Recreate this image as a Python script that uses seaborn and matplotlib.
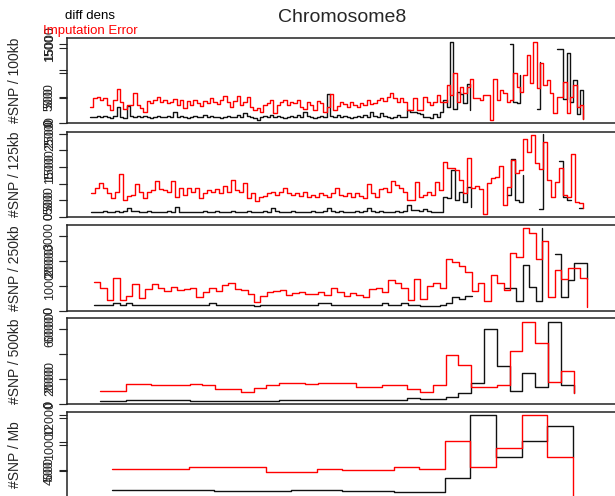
import numpy as np
import pandas as pd
import matplotlib
matplotlib.use("Agg")
import matplotlib.pyplot as plt
import seaborn as sns

sns.set_style("white")
plt.rcParams["font.family"] = ["Liberation Sans", "DejaVu Sans"]

nan = np.nan

# ==========================================
# Data (per window size)
# ==========================================
LABELS = ["#SNP / 100kb", "#SNP / 125kb", "#SNP / 250kb", "#SNP / 500kb", "#SNP / Mb"]

P1_BLACK = [
    115, 115, 140, 115, 140, 115, 93, 140, 313, 115,
    93, 340, 140, 115, 140, 115, 140, 115, 93, 115,
    140, 115, 115, 140, 115, 227, 115, 140, 115, 93,
    115, 140, 115, 115, 160, 115, 140, 115, 115, 93,
    115, 140, 115, 115, 160, 115, 193, 140, 115, 93,
    60, 115, 140, 115, 160, 115, 140, 115, 93, 115,
    140, 115, 160, 115, 227, 140, 115, 93, 115, 140,
    115, 580, 140, 115, 160, 115, 140, 115, 93, 115,
    140, 115, 160, 115, 227, 140, 115, 193, 140, 115,
    93, 115, 160,
    115, 115, 260, 230, 220, 200, 190, 115, 115, 100,
    190, 115, 230, 460, 330, 1620, 290, 630, 590, 400,
    790, 260, nan, nan, nan, nan, nan, nan, nan, nan,
    nan, nan, nan, 1590, 430, 400, 960, nan, nan, nan,
    nan, 290, 1230, nan, nan, nan, nan, 1490, 1490, 490,
    1400, 430, 860, 190, 660,
    75]
P1_RED = [
    3100, 4690, 5000, 4370, 4690, 3420, 2470, 4370, 6400, 4050,
    2600, 3420, 3420, 5640, 3420, 2790, 2150, 4240, 3740, 4370,
    5000, 4050, 4370, 3740, 4050, 4500, 3420, 4370, 2790, 4240,
    3420, 4370, 3860, 3230, 4240, 3740, 4690, 4050, 3610, 4370,
    5130, 4050, 3100, 4240, 5130, 3420, 4050, 5000, 3100, 2470,
    2790, 2150, 3420, 3860, 4370, 1960, 3420, 4050, 4370, 3420,
    4050, 3740, 4370, 3100, 2600, 4050, 3420, 2470, 4240, 3740,
    2150, 3100, 5510, 2470, 3230, 4050, 3610, 3100, 4050, 3420,
    3100, 3860, 3420, 4370, 3610, 3860, 4370, 4690, 4240, 5000,
    5760, 4690, 4050,
    4690, 4050, 2470, 2470, 4690, 2470, 2470, 5000, 4050, 3420,
    4050, 5320, 4050, 4050, 7220, 5320, 9440, 4050, 6900, 5640,
    6900, 8300, 4690, 4690, 4370, 5320, 5320, 570, 8300, 4370,
    6270, 5640, 4050, 4370, 9440, 6900, 5950, 9120, 12920, 7540,
    15450, 6590, 11460, 7220, 8170, 5640, 1840, 5000, 5000, 7850,
    1840, 5000, 7220, 3100, 3420,
    700]

P2_BLACK = [
    160, 140, 160, 180, 160, 140, 180, 160, 180, 260,
    180, 180, 160, 160, 180, 160, 140, 160, 160, 180,
    160, 310, 160, 140, 160, 160, 140, 160, 180, 160,
    160, 180, 160, 140, 160, 180, 140, 160, 160, 180,
    160, 140, 160, 180, 160, 260, 180, 160, 140, 160,
    180, 160, 160, 140, 160, 180, 160, 160, 180, 260,
    180, 160, 180, 160, 140, 160, 180, 160, 180, 260,
    180, 160, 180, 160, 140, 160, 180, 160, 180, 360,
    210, 210, 180, 240, 180, 160, 160, 160, 610, 560,
    1410, 510, 760, 460, 910, 310, nan, nan, nan, nan,
    nan, nan, nan, nan, 660, 1730, 510, 460, 1260, nan,
    nan, nan, 230, 2490, nan, nan, nan, 1690, 610, 510,
    510, nan, 260,
    260]
P2_RED = [
    7100, 8800, 10100, 8800, 7100, 5600, 7600, 12800, 5100, 6400,
    6600, 9800, 7600, 5600, 7600, 8100, 10800, 8400, 8100, 7600,
    10800, 6100, 8600, 6600, 8600, 7600, 8600, 5800, 7100, 8100,
    7600, 8400, 7100, 9400, 7600, 11100, 8100, 7600, 10100, 5600,
    7100, 4800, 6100, 6400, 7100, 7600, 6600, 7600, 8800, 7100,
    6600, 7100, 6400, 7600, 6100, 6600, 6100, 7100, 6600, 6100,
    7100, 8600, 6600, 6400, 7100, 6100, 7100, 6400, 5800, 9800,
    7100, 6100, 8400, 8800, 7600, 10800, 9600, 8600, 7600, 5100,
    5100, 10600, 6100, 6600, 7600, 6600, 10600, 8100, 16600, 14600,
    14600, 14100, 11100, 7100, 17600, 8600, 9300, 8300, 900, 10100,
    11600, 12100, 15300, 3600, 9100, 17100, 13100, 14100, 23300, 19600,
    24600, 16100, 14300, 22600, 11100, 6100, 10600, 14600, 6600, 6100,
    18900, 4600, 4300,
    2600]

P3_BLACK = [
    240, 240, 240, 310, 240, 310, 240, 240, 240, 240,
    240, 240, 240, 240, 240, 240, 240, 240, 310, 240,
    240, 240, 240, 240, 240, 210, 240, 240, 240, 240,
    240, 240, 240, 240, 240, 310, 310, 240, 240, 240,
    240, 240, 240, 240, 240, 310, 240, 240, 310, 240,
    240, 210, 200, 210, 240, 307, 573, 467, 600, 600,
    nan, nan, nan, nan, 907, 907, 413, 1840, 973, 413,
    3307, nan, 2280, 573, 1240, 1933, 1933,
    1300]
P3_RED = [
    11730, 9330, 4400, 13330, 4400, 6130, 10670, 5070, 8800, 10670,
    9070, 8000, 9730, 8400, 8800, 9070, 5730, 7730, 9330, 8000,
    10400, 11070, 8800, 8400, 6800, 3470, 6130, 7470, 8000, 8400,
    6400, 7070, 7730, 6670, 6670, 7470, 6400, 9330, 7470, 6000,
    7070, 6400, 5730, 8800, 9070, 7730, 12270, 11070, 9330, 4400,
    12670, 4800, 10000, 11330, 9070, 20670, 19730, 18130, 15730, 8000,
    11070, 4130, 14400, 11330, 8400, 23070, 21470, 33070, 31330, 20670,
    28130, 5730, 16400, 12670, 17070, 17070, 13070,
    1470]

P4_BLACK = [
    240, 240, 320, 320, 320, 320, 320, 280, 280, 280,
    240, 240, 240, 280, 320, 320, 320, 320, 320, 320,
    320, 320, 320, 320, 453, 400, 400, 587, 853, 1707,
    6000, 3067, 1040, 2453, 1387, 6587, 1520,
    853]
P4_RED = [
    10400, 10400, 16000, 16000, 15200, 15200, 15200, 16000, 15200, 12000,
    12000, 9600, 12800, 15200, 16800, 16800, 16000, 16800, 16800, 16800,
    13600, 13600, 15200, 15200, 12000, 9330, 15200, 39200, 31200, 13870,
    13330, 15200, 42400, 65870, 48530, 17330, 26400,
    8530]

P5_BLACK = [1200, 1200, 1200, 1200, 1050, 1050, 1050, 1200, 1200, 1050,
            1050, 850, 850, 3050, 12450, 6200, 8600, 10850,
            6200]
P5_RED = [5220, 5220, 5220, 5580, 5580, 5580, 4680, 4680, 5220, 5040,
          5040, 5520, 5220, 10260, 5640, 8940, 14940, 7440,
          200]

BLACKS = [P1_BLACK, P2_BLACK, P3_BLACK, P4_BLACK, P5_BLACK]
REDS = [P1_RED, P2_RED, P3_RED, P4_RED, P5_RED]

# axis limits / ticks per panel (black scale, red scale)
BLACK_LIM = [1700, 2550, 3440, 6880, 12900]
RED_LIM = [16150, 25500, 34400, 68800, 15480]
BLACK_TICKS = [[0, 500, 1000, 1500], [0, 500, 1000, 1500, 2000, 2500],
               [0, 1000, 2000, 3000], [0, 2000, 4000, 6000], [0, 4000, 8000, 12000]]
BLACK_TLAB = [["0", "500", "", "1500"], ["0", "500", "", "1500", "", "2500"],
              ["0", "1000", "2000", "3000"], ["0", "2000", "", "6000"], ["0", "4000", "", "12000"]]
RED_TICKS = [[0, 5000, 10000, 15000], [0, 5000, 10000, 15000, 20000, 25000],
             [0, 10000, 20000, 30000], [0, 20000, 40000, 60000], [0, 5000, 10000, 15000]]
RED_TLAB = [["0", "5000", "", "15000"], ["0", "5000", "", "15000", "", "25000"],
            ["0", "", "20000", ""], ["0", "20000", "", "60000"], ["0", "500", "10000", ""]]

# bin start / width (x in Mb-like units)
X0 = [0.898, 0.926, 1.055, 1.289, 1.758]
STEP = [0.1302, 0.15625, 0.25, 0.5, 1.0]

# ==========================================
# Layout (pixel boxes of the five panels)
# ==========================================
W, H = 615, 496
TOPS = [38, 132, 225, 318, 412]
BOTS = [123, 217, 311, 404, 498]
LEFT, RIGHT = 67, 620


def draw_series(ax, values, x0, step, color):
    vals = np.asarray(values, dtype=float)
    df = pd.DataFrame({"x": x0 + step * np.arange(len(vals)), "y": vals})
    df["seg"] = df["y"].isna().cumsum()
    df = df.dropna()
    sns.lineplot(data=df, x="x", y="y", units="seg", estimator=None, color=color,
                 lw=1.0, drawstyle="steps-post", sort=False, legend=False, ax=ax)


fig = plt.figure(figsize=(W / 100, H / 100), dpi=100)

for i in range(5):
    rect = [LEFT / W, 1 - BOTS[i] / H, (RIGHT - LEFT) / W, (BOTS[i] - TOPS[i]) / H]
    ax = fig.add_axes(rect)
    draw_series(ax, BLACKS[i], X0[i], STEP[i], "#111111")
    ax.set_ylim(0, BLACK_LIM[i])
    ax.set_xlim(0, 21.6)
    ax.set_yticks(BLACK_TICKS[i])
    ax.set_yticklabels(BLACK_TLAB[i])
    ax.set_xticks([])
    ax.set_xlabel("")
    ax.set_ylabel(LABELS[i], fontsize=10, labelpad=16)
    ax.tick_params(axis="y", direction="out", length=6, width=0.8, pad=2,
                   labelsize=9, labelrotation=90, left=True)
    for s in ax.spines.values():
        s.set_color("#222222")
        s.set_linewidth(1.1)

    axr = ax.twinx()
    draw_series(axr, REDS[i], X0[i], STEP[i], "#ff0000")
    axr.set_ylim(0, RED_LIM[i])
    axr.set_xlim(0, 21.6)
    axr.set_ylabel("")
    axr.yaxis.tick_left()
    axr.set_yticks(RED_TICKS[i])
    axr.set_yticklabels(RED_TLAB[i])
    axr.tick_params(axis="y", direction="out", length=6, width=0.8, pad=2,
                    labelsize=9, labelrotation=90, left=True, right=False)
    for s in axr.spines.values():
        s.set_visible(False)
    for lab in ax.get_yticklabels() + axr.get_yticklabels():
        lab.set_va("center")

fig.text(342 / W, 1 - 17 / H, "Chromosome8", fontsize=14, ha="center", va="center")
fig.text(90 / W, 1 - 16 / H, "diff dens", fontsize=9.5, ha="center", va="center", color="black")
fig.text(90 / W, 1 - 31 / H, "Imputation Error", fontsize=9.5, ha="center", va="center", color="red")

fig.savefig("out.png", dpi=100)
